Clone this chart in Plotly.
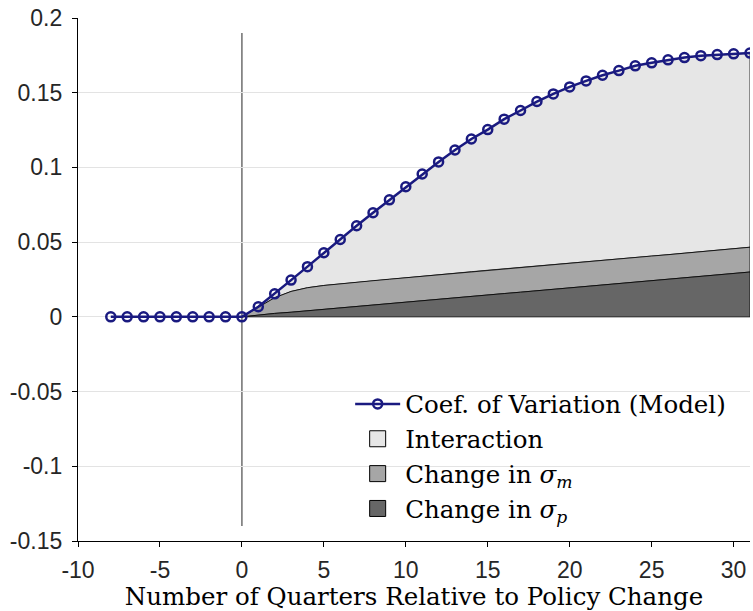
import plotly.graph_objects as go

# ---------------- data ----------------
quarters = list(range(-8, 32))
coef_variation = [0, 0, 0, 0, 0, 0, 0, 0, 0,
                  0.0068, 0.0154, 0.0246, 0.0336, 0.0429, 0.0518, 0.0610, 0.0697,
                  0.0783, 0.0871, 0.0956, 0.1037, 0.1117, 0.1190, 0.1253, 0.1323,
                  0.1381, 0.1441, 0.1492, 0.1539, 0.1579, 0.1617, 0.1648, 0.1680,
                  0.1700, 0.1720, 0.1735, 0.1748, 0.1755, 0.1760, 0.1765]

area_quarters = list(range(0, 32))
# upper boundary of the "Change in sigma_p" area
sigma_p_upper = [0, 0.0013, 0.0023, 0.0031, 0.0041, 0.0050, 0.0060, 0.0070,
                 0.0079, 0.0089, 0.0098, 0.0108, 0.0117, 0.0127, 0.0137, 0.0146,
                 0.0156, 0.0165, 0.0175, 0.0185, 0.0194, 0.0204, 0.0213, 0.0223,
                 0.0233, 0.0242, 0.0252, 0.0261, 0.0271, 0.0281, 0.0290, 0.0300]
# upper boundary of the "Change in sigma_m" area (stacked on sigma_p)
sigma_m_upper = [0, 0.0062, 0.0128, 0.0170, 0.0195, 0.0210, 0.0222, 0.0232,
                 0.0242, 0.0252, 0.0262, 0.0272, 0.0282, 0.0292, 0.0302, 0.0312,
                 0.0321, 0.0331, 0.0340, 0.0350, 0.0359, 0.0369, 0.0378, 0.0388,
                 0.0397, 0.0407, 0.0416, 0.0426, 0.0435, 0.0445, 0.0455, 0.0466]
# interaction area upper boundary = the model coefficient of variation
interaction_upper = coef_variation[quarters.index(0):]

x_tickvals = [-10, -5, 0, 5, 10, 15, 20, 25, 30]
x_ticktext = ["-10", "-5", "0", "5", "10", "15", "20", "25", "30"]
y_tickvals = [-0.15, -0.1, -0.05, 0, 0.05, 0.1, 0.15, 0.2]
y_ticktext = ["-0.15", "-0.1", "-0.05", "0", "0.05", "0.1", "0.15", "0.2"]

series_names = ["Coef. of Variation (Model)", "Interaction",
                "Change in <i>σ</i><sub><i>m</i></sub>",
                "Change in <i>σ</i><sub><i>p</i></sub>"]

# ---------------- styles ----------------
NAVY = "rgb(26,26,128)"
LIGHT = "#e6e6e6"
MID = "#a6a6a6"
DARK = "#666666"
SERIF = "DejaVu Serif, Liberation Serif, serif"
SANS = "Liberation Sans, Arial, sans-serif"

fig = go.Figure()


def band(lower, upper, color):
    xs = area_quarters + area_quarters[::-1]
    ys = list(upper) + list(lower)[::-1]
    fig.add_trace(go.Scatter(x=xs, y=ys, mode="lines", fill="toself",
                             fillcolor=color,
                             line=dict(color="black", width=0.8),
                             showlegend=False, hoverinfo="skip"))


zeros = [0] * len(area_quarters)
band(sigma_m_upper, interaction_upper, LIGHT)
band(sigma_p_upper, sigma_m_upper, MID)
band(zeros, sigma_p_upper, DARK)

# main line
fig.add_trace(go.Scatter(
    x=quarters, y=coef_variation, mode="lines+markers",
    name=series_names[0],
    line=dict(color=NAVY, width=2.5),
    marker=dict(symbol="circle-open", size=9, color=NAVY,
                line=dict(width=2.5, color=NAVY)),
    legendrank=1, legendgroup="a"))

# legend proxies for the areas
for i, (nm, col) in enumerate(zip(series_names[1:], [LIGHT, MID, DARK])):
    fig.add_trace(go.Scatter(
        x=[None], y=[None], mode="markers", name=nm,
        marker=dict(symbol="square", size=22, color=col,
                    line=dict(color="black", width=1)),
        legendrank=2 + i, legendgroup="g%d" % i))

# vertical reference line at the policy change
fig.add_shape(type="line", x0=0, x1=0, y0=-0.14, y1=0.19,
              line=dict(color="#777777", width=1.6), layer="below")

fig.update_layout(
    width=753, height=611,
    margin=dict(l=78, r=3, t=18, b=70),
    paper_bgcolor="white", plot_bgcolor="white",
    showlegend=True,
    legend=dict(x=0.405, y=0.305, xanchor="left", yanchor="top",
                bgcolor="rgba(0,0,0,0)", borderwidth=0,
                font=dict(family=SERIF, size=24.5, color="black"),
                itemwidth=45, tracegroupgap=0, itemsizing="trace"),
    xaxis=dict(range=[-10, 31], tickvals=x_tickvals, ticktext=x_ticktext,
               showgrid=False, zeroline=False, showline=True,
               linecolor="black", linewidth=1.2, ticks="outside",
               ticklen=5, tickcolor="black", tickwidth=1.2,
               ticklabelstandoff=3,
               tickfont=dict(family=SANS, size=23, color="#262626"),
               title=dict(text="Number of Quarters Relative to Policy Change",
                          font=dict(family=SERIF, size=24.5, color="black"),
                          standoff=9)),
    yaxis=dict(range=[-0.15, 0.2], tickvals=y_tickvals, ticktext=y_ticktext,
               showgrid=True, gridcolor="#e3e3e3", gridwidth=1,
               zeroline=False, showline=True, linecolor="black",
               linewidth=1.2, ticks="outside", ticklen=5,
               tickcolor="black", tickwidth=1.2, ticklabelstandoff=5,
               tickfont=dict(family=SANS, size=23, color="#262626")),
)

fig.write_html("out.html")
